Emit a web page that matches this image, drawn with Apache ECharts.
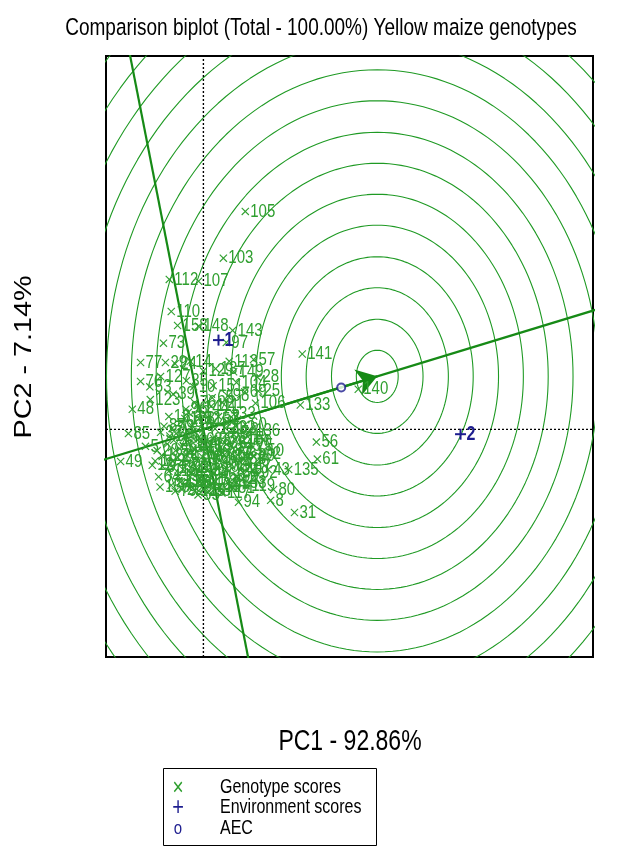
<!DOCTYPE html>
<html>
<head>
<meta charset="utf-8">
<script src="https://cdn.jsdelivr.net/npm/echarts@6/dist/echarts.min.js"></script>
<style>
  html, body { margin: 0; padding: 0; background: #ffffff; }
  #chart { width: 632px; height: 847px; }
</style>
</head>
<body>
<div id="chart"></div>
<script>
// Axis extents of the biplot (PC1 horizontal, PC2 vertical)
const pc1Range = [-2, 8];
const pc2Range = [-3.75, 6.15];

// Genotype scores: [label, PC1, PC2]
const genotypeScores = [
  ['105', 0.86, 3.59], ['103', 0.41, 2.82], ['112', -0.70, 2.47], ['107', -0.10, 2.44],
  ['110', -0.66, 1.94], ['158', -0.53, 1.71], ['148', -0.10, 1.70], ['143', 0.60, 1.63],
  ['97', 0.47, 1.43], ['73', -0.82, 1.42], ['77', -1.29, 1.10], ['29', -0.78, 1.10],
  ['14', -0.27, 1.12], ['113', 0.53, 1.12], ['57', 1.03, 1.15], ['70', -1.29, 0.79],
  ['127', -0.88, 0.87], ['129', 0.00, 0.96], ['28', 1.11, 0.86], ['104', 0.68, 0.77],
  ['25', 1.13, 0.63], ['106', 1.07, 0.43], ['48', -1.46, 0.33], ['123', -1.09, 0.49],
  ['133', 1.99, 0.40], ['141', 2.03, 1.24], ['140', 3.18, 0.66], ['56', 2.32, -0.21],
  ['61', 2.34, -0.49], ['43', 1.33, -0.66], ['135', 1.75, -0.66], ['50', 1.21, -0.36],
  ['102', 0.98, -0.40], ['80', 1.44, -0.99], ['94', 0.72, -1.20], ['8', 1.38, -1.17],
  ['31', 1.87, -1.37], ['85', -1.54, -0.07], ['5', -1.19, -0.28], ['49', -1.70, -0.53],
  ['12', -1.05, -0.59], ['137', 0.25, 1.00], ['24', -0.58, 1.08], ['35', -0.35, 0.80],
  ['149', 0.62, 0.95], ['151', 0.20, 0.72], ['69', 0.85, 0.62], ['98', 0.50, 0.55],
  ['10', -0.20, 0.70], ['53', -1.10, 0.70], ['39', -0.62, 0.58],
  ['1', -0.35, -0.42], ['2', 0.22, -0.71], ['3', -0.61, -0.18], ['4', 0.48, 0.12],
  ['6', -0.12, -0.88], ['7', 0.71, -0.33], ['9', -0.84, -0.61], ['11', 0.33, -0.95],
  ['13', -0.52, -0.77], ['15', 0.91, -0.12], ['16', -0.23, 0.05], ['17', 0.58, -0.58],
  ['18', -0.71, 0.21], ['19', 0.14, -0.26], ['20', -0.95, -0.35], ['21', 0.39, 0.44],
  ['22', -0.44, -0.99], ['23', 0.82, -0.81], ['26', 0.27, -0.47], ['27', -0.63, -0.52],
  ['30', 1.02, -0.44], ['32', -0.31, 0.28], ['33', 0.63, 0.25], ['34', -0.15, -0.63],
  ['36', 0.44, -0.22], ['37', -0.88, -0.05], ['38', 0.12, -1.02], ['40', 0.76, -0.67],
  ['41', -0.21, -0.31], ['42', 0.19, 0.09], ['44', -0.66, -0.92], ['45', 0.52, -0.89],
  ['46', -0.02, -0.45], ['47', 0.95, -0.61], ['51', -0.39, -0.14], ['52', 0.31, 0.21],
  ['54', 0.67, -0.05], ['55', -0.11, -1.08], ['58', 0.08, -0.68], ['59', -0.57, -0.35],
  ['60', 0.86, 0.08], ['62', -0.27, -0.78], ['63', 0.41, -0.75], ['64', -0.92, -0.78],
  ['65', 0.18, 0.52], ['66', -0.46, 0.12], ['67', 0.59, -0.41], ['68', -0.05, -0.18],
  ['71', -0.34, -0.58], ['72', 0.25, -0.86], ['74', -0.74, -0.24], ['75', 0.99, -0.27],
  ['76', -0.18, 0.44], ['78', 0.36, -0.36], ['79', -0.58, -1.02], ['81', 0.61, -0.97],
  ['82', -0.09, 0.18], ['83', 0.84, -0.49], ['84', -0.42, -0.66], ['86', 0.11, -0.37],
  ['87', -0.81, 0.05], ['88', 0.47, -0.08], ['89', -0.26, -0.94], ['90', 0.69, -0.78],
  ['91', 0.02, -0.83], ['92', 1.08, -0.72], ['93', -0.64, 0.02], ['95', 0.21, -0.15],
  ['96', -0.36, 0.33], ['99', -0.14, -0.51], ['100', 0.79, -0.21], ['101', -0.53, -0.46],
  ['108', 0.29, -0.61], ['109', -0.99, -0.52], ['111', 0.16, 0.38], ['114', -0.29, -0.23],
  ['115', 0.64, -0.16], ['116', -0.71, -0.69], ['117', 0.38, -1.05], ['118', -0.03, -0.29],
  ['119', 0.88, -0.93], ['120', -0.47, -0.87], ['121', 0.24, 0.01], ['122', -0.86, -0.43],
  ['124', 0.53, -0.68], ['125', -0.17, -1.01], ['126', 0.74, -0.52], ['128', -0.38, 0.18],
  ['130', 0.07, -0.56], ['131', -0.62, -0.63], ['132', 0.45, 0.02], ['134', -0.24, -0.72],
  ['136', 0.96, -0.02], ['138', 0.13, -0.92], ['139', -0.45, -0.29], ['142', 0.34, -0.51],
  ['144', -0.09, 0.35], ['145', 0.57, -0.27], ['146', -0.69, -0.11], ['147', 0.01, -0.99],
  ['150', -0.33, -0.86], ['152', -0.56, -0.07], ['153', 0.68, -0.88], ['154', -0.19, -0.41],
  ['155', 0.43, -0.42], ['156', -0.89, -0.95], ['157', 0.11, 0.15]
];

// Environment scores
const envNames = ['1', '2'];
const envPC1 = [0.31, 5.28];
const envPC2 = [1.47, -0.08];

// Average environment coordinate and the ideal genotype on the AEC axis
const aecPoint = [2.83, 0.69];
const idealPoint = [3.57, 0.873];

// Radii of the concentric distance rings around the ideal genotype
const ringRadii = [0.43, 0.94, 1.46, 1.97, 2.49, 3.00, 3.51, 4.02, 4.54, 5.05, 5.56, 6.08, 6.59, 7.10, 7.62, 8.13];

// Text
const titleText = 'Comparison biplot (Total - 100.00%) Yellow maize genotypes';
const xAxisTitle = 'PC1 - 92.86%';
const yAxisTitle = 'PC2 - 7.14%';
const legendEntries = ['Genotype scores', 'Environment scores', 'AEC'];

const GREEN_TEXT = '#2f9f2f';
const GREEN_LINE = '#1f9a24';
const GREEN_AXIS = '#168a16';
const BLUE = '#1d1d8f';
const FONT = '"Liberation Sans", Arial, Helvetica, sans-serif';
const TALL = 1.25; // vertical stretch of the page's lettering

// Ring outlines as closed polylines in data space
const ringSeries = ringRadii.map(function (r) {
  const pts = [];
  for (let a = 0; a <= 360; a += 2) {
    const t = a * Math.PI / 180;
    pts.push([idealPoint[0] + r * Math.cos(t), idealPoint[1] + r * Math.sin(t)]);
  }
  return {
    type: 'line', data: pts, showSymbol: false, silent: true, clip: true,
    lineStyle: { color: GREEN_LINE, width: 1.1 }, z: 1, animation: false
  };
});

// AEC abscissa (through origin and the ideal genotype) and its perpendicular ordinate
const len = Math.hypot(idealPoint[0], idealPoint[1]);
const ux = idealPoint[0] / len, uy = idealPoint[1] / len;
const far = 30;
const aecAbscissa = [[-far * ux, -far * uy], [far * ux, far * uy]];
const aecOrdinate = [[far * uy, -far * ux], [-far * uy, far * ux]];

// Marker plus a tall label, positioned through the cartesian coordinate system
function markerWithLabel(kind, names, color, fontCss, armLen, lineW, gap) {
  return function (params, api) {
    const p = api.coord([api.value(0), api.value(1)]);
    const a = armLen;
    const segs = kind === 'cross'
      ? [[-a, -a, a, a], [-a, a, a, -a]]
      : [[-a, 0, a, 0], [0, -a, 0, a]];
    const children = segs.map(function (s) {
      return {
        type: 'line', x: p[0], y: p[1],
        shape: { x1: s[0], y1: s[1], x2: s[2], y2: s[3] },
        style: { stroke: color, lineWidth: lineW }
      };
    });
    children.push({
      type: 'text', x: p[0] + gap, y: p[1], scaleY: TALL,
      style: { text: names[params.dataIndex], fill: color, font: fontCss, align: 'left', verticalAlign: 'middle' }
    });
    return { type: 'group', children: children };
  };
}

function label(text, x, y, size, color, align) {
  return {
    type: 'text', x: x, y: y, silent: true, scaleY: TALL,
    style: { text: text, fill: color || '#000', font: size + 'px ' + FONT, align: align || 'left', verticalAlign: 'middle' }
  };
}

const genotypeNames = genotypeScores.map(function (g) { return g[0]; });

const option = {
  animation: false,
  backgroundColor: '#ffffff',
  grid: {
    left: 106, top: 56, width: 487, height: 601,
    show: true, borderColor: '#000', borderWidth: 2, backgroundColor: 'transparent'
  },
  xAxis: {
    type: 'value', min: pc1Range[0], max: pc1Range[1],
    axisLine: { show: false }, axisTick: { show: false }, axisLabel: { show: false },
    splitLine: { show: false }
  },
  yAxis: {
    type: 'value', min: pc2Range[0], max: pc2Range[1],
    axisLine: { show: false }, axisTick: { show: false }, axisLabel: { show: false },
    splitLine: { show: false }
  },
  series: ringSeries.concat([
    {
      type: 'line', data: [[0, pc2Range[0]], [0, pc2Range[1]]], showSymbol: false, silent: true,
      lineStyle: { color: '#000', width: 1.4, type: [2, 2] }, z: 2
    },
    {
      type: 'line', data: [[pc1Range[0], 0], [pc1Range[1], 0]], showSymbol: false, silent: true,
      lineStyle: { color: '#000', width: 1.4, type: [2, 2] }, z: 2
    },
    {
      type: 'line', data: aecAbscissa, showSymbol: false, silent: true, clip: true,
      lineStyle: { color: GREEN_AXIS, width: 2.2 }, z: 3,
      markLine: {
        silent: true, symbol: ['none', 'arrow'], symbolSize: 20,
        lineStyle: { color: GREEN_AXIS, width: 2.2, type: 'solid' },
        label: { show: false },
        data: [[{ coord: [0, 0] }, { coord: idealPoint }]]
      }
    },
    {
      type: 'line', data: aecOrdinate, showSymbol: false, silent: true, clip: true,
      lineStyle: { color: GREEN_AXIS, width: 2.2 }, z: 3
    },
    {
      name: legendEntries[0], type: 'custom', z: 5, silent: true,
      data: genotypeScores.map(function (g) { return [g[1], g[2]]; }),
      encode: { x: 0, y: 1 },
      renderItem: markerWithLabel('cross', genotypeNames, GREEN_TEXT, '15px ' + FONT, 3.6, 1.1, 5)
    },
    {
      name: legendEntries[1], type: 'custom', z: 6, silent: true,
      data: envNames.map(function (n, i) { return [envPC1[i], envPC2[i]]; }),
      encode: { x: 0, y: 1 },
      renderItem: markerWithLabel('plus', envNames, BLUE, 'bold 16px ' + FONT, 5.5, 2, 6)
    },
    {
      name: legendEntries[2], type: 'scatter', z: 6,
      data: [aecPoint],
      symbol: 'emptyCircle', symbolSize: 8,
      itemStyle: { color: BLUE, borderColor: BLUE, borderWidth: 1.6 }
    }
  ]),
  graphic: [
    // chart title and axis titles
    label(titleText, 321, 28, 19, '#000', 'center'),
    label(xAxisTitle, 350, 742, 23, '#000', 'center'),
    {
      type: 'text', x: 25, y: 357, rotation: Math.PI / 2, scaleX: TALL, silent: true,
      style: { text: yAxisTitle, fill: '#000', font: '23px ' + FONT, align: 'center', verticalAlign: 'middle' }
    },
    // legend box
    {
      type: 'rect', x: 163.5, y: 768.5, silent: true,
      shape: { width: 213, height: 77 },
      style: { fill: 'none', stroke: '#000', lineWidth: 1 }
    },
    label('×', 178, 788, 19, GREEN_TEXT, 'center'),
    label('+', 178, 808, 20, BLUE, 'center'),
    label('o', 178, 829, 15, BLUE, 'center'),
    label(legendEntries[0], 220, 787, 16),
    label(legendEntries[1], 220, 807, 16),
    label(legendEntries[2], 220, 828, 16)
  ]
};

const chart = echarts.init(document.getElementById('chart'), null, { renderer: 'canvas' });
chart.setOption(option);
</script>
</body>
</html>
